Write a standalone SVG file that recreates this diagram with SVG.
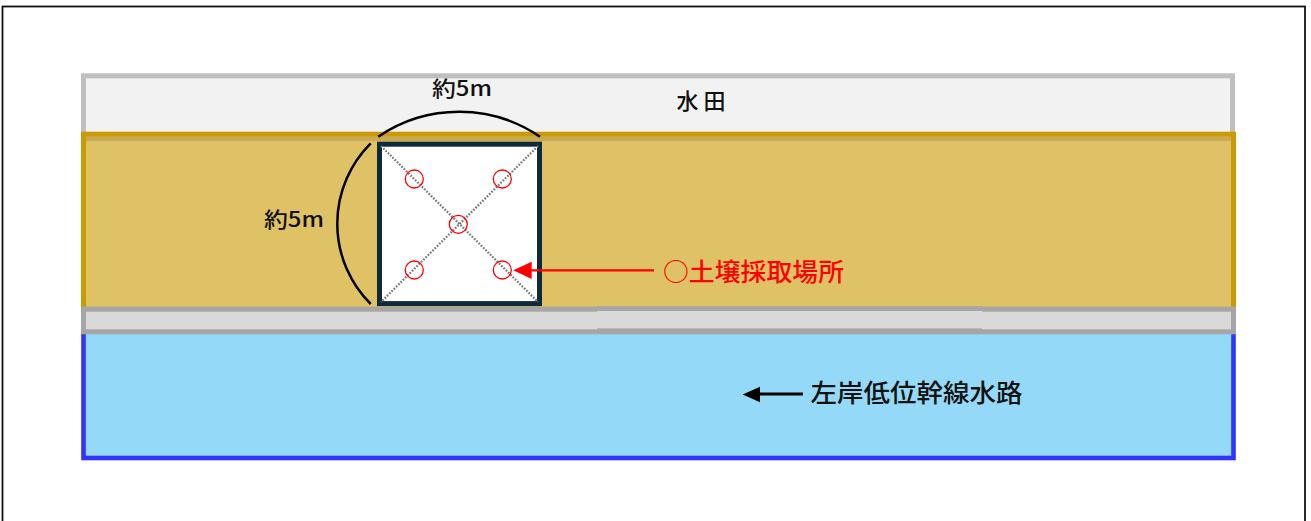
<svg xmlns="http://www.w3.org/2000/svg" width="1311" height="521" viewBox="0 0 1311 521">
<style>
.jp{font-family:"Noto Sans CJK JP","Noto Sans",sans-serif;font-weight:500}
.band{stroke-width:5}
.dot{stroke:#7a7a7a;stroke-width:2.3;stroke-dasharray:1.7 1.5;fill:none}
.pt{fill:none;stroke:#ff0000;stroke-width:1.3}
.arc{fill:none;stroke:#000;stroke-width:2.5}
</style>
<rect width="1311" height="521" fill="#ffffff"/>
<rect x="2.5" y="6.5" width="1302.5" height="530" fill="none" stroke="#111" stroke-width="1.8"/>
<g id="paddy">
<rect x="83.5" y="75.8" width="1149" height="60" fill="#f2f2f2" stroke="#bfbfbf" class="band"/>
<text class="jp" x="701" y="108.5" font-size="22" text-anchor="middle" textLength="49" fill="#111">水田</text>
</g>
<g id="bank">
<rect x="83.5" y="134.2" width="1150" height="176" fill="#dfc166" stroke="#cc9a06" class="band"/>
<rect x="86" y="136.7" width="1145" height="4.3" fill="#c8aa55"/>
</g>
<g id="canal">
<rect x="83.5" y="331" width="1150" height="127" fill="#94d9f7" stroke="#3333ff" stroke-width="4.6"/>
<text class="jp" x="810.5" y="402" font-size="25" textLength="212" lengthAdjust="spacingAndGlyphs" fill="#111">左岸低位幹線水路</text>
</g>
<g id="road">
<rect x="83.5" y="309.2" width="1150" height="22.6" fill="#d9d9d9" stroke="#a6a6a6" class="band"/>
<rect x="597" y="306.2" width="385" height="27.1" fill="#a6a6a6"/>
<rect x="597" y="311" width="385" height="17.4" fill="#d9d9d9"/>
</g>
<g id="plot">
<rect x="379.5" y="144.2" width="160" height="159.4" fill="#ffffff" stroke="#10293a" stroke-width="5"/>
<line x1="381" y1="146" x2="538" y2="302" class="dot"/>
<line x1="538" y1="146" x2="381" y2="302" class="dot"/>
<circle cx="414.3" cy="179" r="9" class="pt"/>
<circle cx="502.3" cy="179" r="9" class="pt"/>
<circle cx="458.3" cy="224.3" r="9" class="pt"/>
<circle cx="414.3" cy="270" r="9" class="pt"/>
<circle cx="502.3" cy="270" r="9" class="pt"/>
</g>
<g id="dimensions">
<path d="M378.3 136.7 A143.7 143.7 0 0 1 540 136.7" class="arc"/>
<path d="M370.7 143.3 A113.3 113.3 0 0 0 370.7 304" class="arc"/>
<text class="jp" x="462" y="96" font-size="21" text-anchor="middle" textLength="60" lengthAdjust="spacingAndGlyphs" fill="#111">約5m</text>
<text class="jp" x="294" y="226.5" font-size="21" text-anchor="middle" textLength="60" lengthAdjust="spacingAndGlyphs" fill="#111">約5m</text>
</g>
<g id="connectors">
<line x1="654" y1="270.3" x2="528" y2="270.3" stroke="#ff0000" stroke-width="2.2"/>
<polygon points="513.3,270.3 531.7,261.7 531.7,279" fill="#ff0000"/>
<line x1="803" y1="394" x2="756" y2="394" stroke="#000" stroke-width="3"/>
<polygon points="742.7,394.5 760,386.7 760,402.3" fill="#000"/>
</g>
<g id="label">
<text class="jp" x="663" y="280.5" font-size="25" textLength="181" lengthAdjust="spacingAndGlyphs" fill="#ff0000">○土壌採取場所</text>
</g>
</svg>
